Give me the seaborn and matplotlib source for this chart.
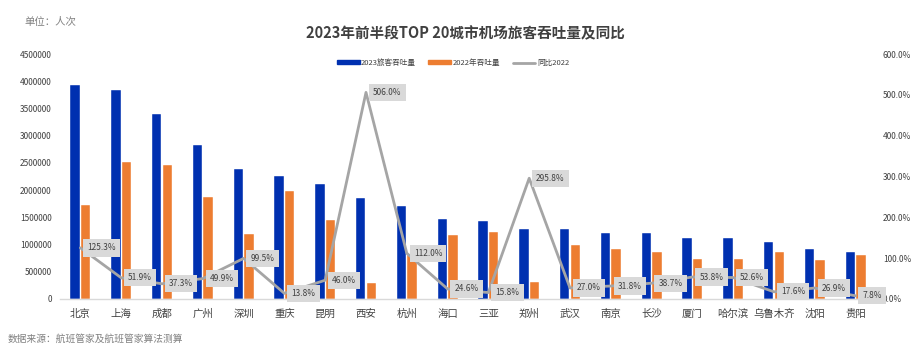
import numpy as np
import pandas as pd
import matplotlib
matplotlib.use('Agg')
import matplotlib.pyplot as plt
from matplotlib.patches import Patch
from matplotlib.lines import Line2D
from matplotlib.ticker import FuncFormatter
import seaborn as sns

# data
cities = ['北京', '上海', '成都', '广州', '深圳', '重庆', '昆明', '西安', '杭州', '海口',
          '三亚', '郑州', '武汉', '南京', '长沙', '厦门', '哈尔滨', '乌鲁木齐', '沈阳', '贵阳']
vol_2023 = [3930000, 3830000, 3390000, 2830000, 2380000, 2260000, 2120000, 1860000, 1710000, 1470000,
            1430000, 1280000, 1280000, 1220000, 1210000, 1120000, 1120000, 1040000, 910000, 860000]
vol_2022 = [1730000, 2520000, 2470000, 1880000, 1190000, 1990000, 1450000, 300000, 810000, 1170000,
            1230000, 310000, 1000000, 920000, 870000, 730000, 730000, 870000, 710000, 800000]
yoy_pct = [125.3, 51.9, 37.3, 49.9, 99.5, 13.8, 46.0, 506.0, 112.0, 24.6,
           15.8, 295.8, 27.0, 31.8, 38.7, 53.8, 52.6, 17.6, 26.9, 7.8]
series = ['2023旅客吞吐量', '2022年吞吐量']
line_name = '同比2022'

BLUE = '#0030B0'
ORANGE = '#ED7D31'
GRAY = '#A5A5A5'
TXT = '#404040'

sns.set_style('white')
plt.rcParams['font.family'] = ['Noto Sans CJK SC', 'DejaVu Sans']
plt.rcParams['axes.unicode_minus'] = False

df = pd.DataFrame({
    'city': cities * 2,
    'value': vol_2023 + vol_2022,
    'series': [series[0]] * len(cities) + [series[1]] * len(cities),
})

fig = plt.figure(figsize=(9.24, 3.5), dpi=100)
ax = fig.add_axes([60 / 924, 1 - 299 / 350, (876 - 60) / 924, (299 - 54) / 350])

sns.barplot(data=df, x='city', y='value', hue='series', order=cities, hue_order=series,
            palette=[BLUE, ORANGE], width=0.52, gap=0.1, ax=ax, legend=False,
            saturation=1, edgecolor='white', linewidth=0.3)
ax.set_ylim(0, 4500000)
ax.set_xlim(-0.5, len(cities) - 0.5)
ax.set_yticks(np.arange(0, 4500001, 500000))
ax.yaxis.set_major_formatter(FuncFormatter(lambda v, p: f'{int(v)}'))
ax.set_xlabel('')
ax.set_ylabel('')
ax.tick_params(axis='y', labelsize=6, colors=TXT, length=0, pad=6)
ax.tick_params(axis='x', labelsize=7.5, colors=TXT, length=0, pad=7)
for s in ['top', 'right', 'left']:
    ax.spines[s].set_visible(False)
ax.spines['bottom'].set_color('#D9D9D9')
ax.spines['bottom'].set_linewidth(1)

ax2 = ax.twinx()
pos = np.arange(len(cities))
sns.lineplot(x=pos, y=yoy_pct, ax=ax2, color=GRAY, linewidth=2, legend=False)
ax2.set_ylim(0, 600)
ax2.set_yticks(np.arange(0, 601, 100))
ax2.yaxis.set_major_formatter(FuncFormatter(lambda v, p: f'{v:.1f}%'))
ax2.tick_params(axis='y', labelsize=6, colors=TXT, length=0, pad=5)
ax2.set_ylabel('')
for s in ['top', 'right', 'left', 'bottom']:
    ax2.spines[s].set_visible(False)

for i, p in enumerate(yoy_pct):
    ax2.annotate(f'{p:.1f}%', (i, p), xytext=(5, 0), textcoords='offset points',
                 ha='left', va='center', fontsize=6, color=TXT,
                 bbox=dict(boxstyle='square,pad=0.5', fc='#D9D9D9', ec='none'))

handles = [Patch(color=BLUE, label=series[0]),
           Patch(color=ORANGE, label=series[1]),
           Line2D([0], [0], color=GRAY, lw=2, label=line_name)]
fig.legend(handles=handles, loc='center', bbox_to_anchor=(453 / 924, 1 - 63 / 350), ncol=3,
           frameon=False, fontsize=5.5, handlelength=3.0, handleheight=0.45,
           columnspacing=1.6, handletextpad=0.2, labelcolor=TXT)

fig.text(465 / 924, 1 - 33 / 350, '2023年前半段TOP 20城市机场旅客吞吐量及同比',
         ha='center', va='center', fontsize=10.5, fontweight='bold', color=TXT)
fig.text(24 / 924, 1 - 22 / 350, '单位：人次', ha='left', va='center', fontsize=7.5, color='#808080')
fig.text(8 / 924, 1 - 339 / 350, '数据来源：航班管家及航班管家算法测算', ha='left', va='center',
         fontsize=7, color='#808080')

fig.savefig('out.png', dpi=100)
plt.close(fig)
